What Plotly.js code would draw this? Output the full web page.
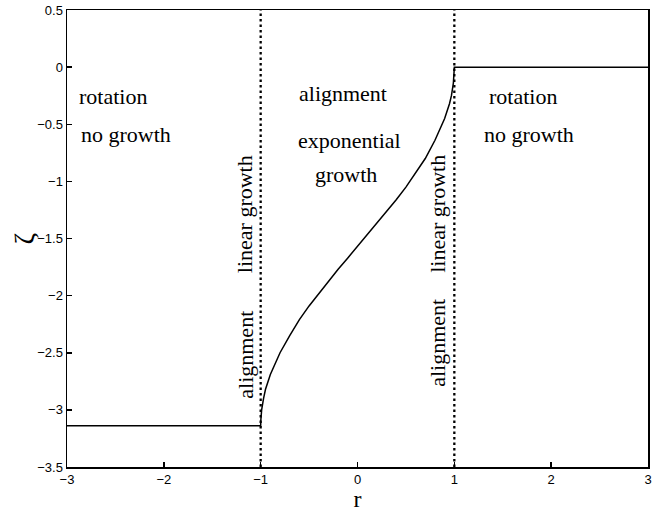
<!DOCTYPE html>
<html>
<head>
<meta charset="utf-8">
<script src="https://cdn.plot.ly/plotly-3.0.1.min.js"></script>
<style>html,body{margin:0;padding:0;background:#fff;}#chart{width:662px;height:512px;}</style>
</head>
<body>
<div id="chart"></div>
<script>
// Curve values
const rValues = [-3, -1, -0.999, -0.99, -0.97, -0.95, -0.9, -0.85, -0.8, -0.7, -0.6, -0.5, -0.4, -0.3, -0.2, -0.1, 0, 0.1, 0.2, 0.3, 0.4, 0.5, 0.6, 0.7, 0.8, 0.85, 0.9, 0.95, 0.97, 0.99, 0.999, 1, 3];
const zetaValues = [-3.14, -3.14, -3.10, -3.00, -2.90, -2.82, -2.69, -2.59, -2.50, -2.35, -2.21, -2.09, -1.98, -1.88, -1.77, -1.67, -1.57, -1.47, -1.37, -1.27, -1.16, -1.05, -0.93, -0.80, -0.64, -0.55, -0.45, -0.32, -0.25, -0.14, -0.045, 0, 0];
const boundaryR = [-1, 1];
const yRange = [-3.5, 0.5];
const xTicks = [-3, -2, -1, 0, 1, 2, 3];
const yTicks = [0.5, 0, -0.5, -1, -1.5, -2, -2.5, -3, -3.5];

// Region labels: text, x, y, angle
const labelText = ["rotation", "no growth", "alignment", "exponential", "growth", "linear growth", "alignment", "linear growth", "alignment", "rotation", "no growth"];
const labelX = [-2.53, -2.39, -0.15, -0.08, -0.12, -1.165, -1.165, 0.825, 0.825, 1.71, 1.77];
const labelY = [-0.26, -0.59, -0.23, -0.64, -0.94, -1.29, -2.52, -1.28, -2.41, -0.26, -0.59];
const labelAngle = [0, 0, 0, 0, 0, -90, -90, -90, -90, 0, 0];

const traces = [];
boundaryR.forEach(b => {
  traces.push({x: [b, b], y: yRange, mode: 'lines', line: {color: '#000', width: 2.3, dash: '2.5px,3px'}, hoverinfo: 'skip'});
});
traces.push({x: rValues, y: zetaValues, mode: 'lines', line: {color: '#000', width: 1.5}, hoverinfo: 'skip'});

const annotations = labelText.map((t, i) => ({
  text: t, x: labelX[i], y: labelY[i], xref: 'x', yref: 'y', showarrow: false,
  textangle: labelAngle[i], xanchor: 'center', yanchor: 'middle',
  font: {family: 'Liberation Serif, Times New Roman, serif', size: 22, color: '#000'}
}));
// y-axis label, drawn sideways as in the reference
annotations.push({
  text: 'ζ', xref: 'paper', yref: 'y', x: 0, xshift: -43, y: -1.5, showarrow: false,
  textangle: -90, xanchor: 'center', yanchor: 'middle',
  font: {family: 'Liberation Serif, Times New Roman, serif', size: 28, color: '#000'}
});

const layout = {
  width: 662, height: 512,
  margin: {l: 67, r: 14, t: 10, b: 45},
  paper_bgcolor: '#fff', plot_bgcolor: '#fff',
  showlegend: false,
  font: {family: 'Liberation Sans, Arial, sans-serif', size: 13, color: '#000'},
  xaxis: {
    range: [-3, 3], tickvals: xTicks, ticks: 'inside', ticklen: 5, tickwidth: 1.5, tickcolor: '#000',
    showline: true, linewidth: 1.5, linecolor: '#000', mirror: true, showgrid: false, zeroline: false,
    title: {text: 'r', standoff: 4, font: {family: 'Liberation Serif, Times New Roman, serif', size: 24}}
  },
  yaxis: {
    range: yRange, tickvals: yTicks, ticktext: yTicks.map(v => String(v).replace('-', '\u2212')),
    ticks: 'inside', ticklen: 5, tickwidth: 1.5, tickcolor: '#000',
    showline: true, linewidth: 1.5, linecolor: '#000', mirror: true, showgrid: false, zeroline: false
  },
  annotations: annotations
};

Plotly.newPlot('chart', traces, layout, {displayModeBar: false, staticPlot: true});
</script>
</body>
</html>
